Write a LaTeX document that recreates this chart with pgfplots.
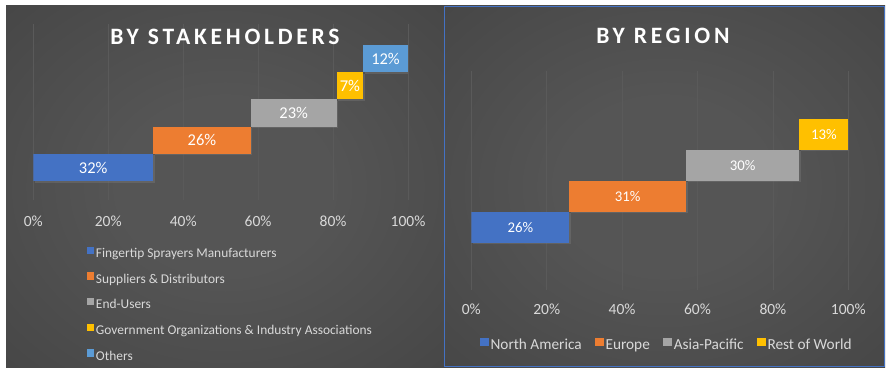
\documentclass[border=0pt]{standalone}
\usepackage{pgfplots}
\pgfplotsset{compat=1.18}
\usepackage{fontspec}
\setmainfont{Carlito}
\newfontfamily\titlefont[LetterSpace=16]{Carlito}
\usetikzlibrary{shadows}
\definecolor{c1}{HTML}{4472C4}
\definecolor{c2}{HTML}{ED7D31}
\definecolor{c3}{HTML}{A5A5A5}
\definecolor{c4}{HTML}{FFC000}
\definecolor{c5}{HTML}{5B9BD5}
\definecolor{tickc}{HTML}{D9D9D9}
\definecolor{gridc}{HTML}{5A5A5A}
\definecolor{bgin}{HTML}{555555}
\definecolor{bgmid}{HTML}{414141}
\definecolor{bgout}{HTML}{2E2E2E}
\pgfdeclareradialshading{panelshade}{\pgfpoint{0bp}{0bp}}{color(0bp)=(bgin); color(12bp)=(bgin); color(45bp)=(bgmid); color(71bp)=(bgout)}
\pgfplotsset{
  panel/.style={
    scale only axis, xmin=0, xmax=100,
    axis line style={draw=none}, tick style={draw=none},
    ytick=\empty, xtick={0,20,40,60,80,100},
    xticklabels={0\%,20\%,40\%,60\%,80\%,100\%},
    xmajorgrids, grid style={gridc, line width=0.8pt},
    xticklabel style={anchor=center, font=\fontsize{15.5}{18}\selectfont, text=tickc},
    title style={anchor=center, yshift=0pt, font=\titlefont\bfseries\fontsize{23.5}{27}\selectfont, text=white},
    legend style={draw=none, fill=none, inner sep=0pt, text=tickc},
    legend cell align=left,
  },
  mybar/.style={draw=none, fill=#1, forget plot, drop shadow={shadow xshift=1.5pt, shadow yshift=-1.5pt, opacity=0.35}},
}
\begin{document}
\begin{tikzpicture}[x=1pt,y=1pt]
\useasboundingbox (0,0) rectangle (891,373);
\fill[white] (0,0) rectangle (891,373);
\shade[shading=panelshade] (6,6) rectangle (444,367);
\shade[shading=panelshade] (444,6) rectangle (885,367);
\draw[c1, line width=1pt] (444.5,6.5) rectangle (884.5,366.5);

% ---------- BY STAKEHOLDERS ----------
\begin{axis}[panel,
  at={(33.3pt,173pt)}, anchor=south west,
  width=374.7pt, height=176pt,
  ymin=-1.19, ymax=5.27,
  xticklabel style={yshift=-21pt},
  title={BY STAKEHOLDERS},
  title style={at={(axis description cs:0.5116,0.895)}},
  legend style={at={(axis description cs:0.1433,-0.2653)}, anchor=north west,
    font=\fontsize{13.4}{15}\selectfont, row sep=11.8pt,
    nodes={inner xsep=1.5pt, inner ysep=0pt, text height=9pt, text depth=3pt}},
  legend image code/.code={\fill[#1] (0pt,0.5pt) rectangle (7.3pt,7.8pt);},
]
\addplot[mybar=c1] coordinates {(0,-0.5) (32,-0.5) (32,0.5) (0,0.5)} --cycle;
\addplot[mybar=c2] coordinates {(32,0.5) (58,0.5) (58,1.5) (32,1.5)} --cycle;
\addplot[mybar=c3] coordinates {(58,1.5) (81,1.5) (81,2.5) (58,2.5)} --cycle;
\addplot[mybar=c4] coordinates {(81,2.5) (88,2.5) (88,3.5) (81,3.5)} --cycle;
\addplot[mybar=c5] coordinates {(88,3.5) (100,3.5) (100,4.5) (88,4.5)} --cycle;
\addplot[draw=none, mark=none, forget plot, nodes near coords, point meta=explicit symbolic,
  nodes near coords style={anchor=center, text=white, font=\fontsize{16.5}{19}\selectfont}]
  coordinates {(16,0)[32\%] (45,1)[26\%] (69.5,2)[23\%] (84.5,3)[7\%] (94,4)[12\%]};
\addlegendimage{fill=c1, draw=none}\addlegendentry{Fingertip Sprayers Manufacturers}
\addlegendimage{fill=c2, draw=none}\addlegendentry{Suppliers \& Distributors}
\addlegendimage{fill=c3, draw=none}\addlegendentry{End-Users}
\addlegendimage{fill=c4, draw=none}\addlegendentry{Government Organizations \& Industry Associations}
\addlegendimage{fill=c5, draw=none}\addlegendentry{Others}
\end{axis}

% ---------- BY REGION ----------
\begin{axis}[panel,
  at={(471.3pt,83pt)}, anchor=south west,
  width=377pt, height=219pt,
  ymin=-2.02, ymax=5.05,
  xticklabel style={yshift=-19pt},
  title={BY REGION},
  title style={at={(axis description cs:0.5085,1.132)}},
  legend columns=4,
  legend style={at={(axis description cs:0.023,-0.216)}, anchor=north west,
    font=\fontsize{15.3}{17}\selectfont,
    nodes={inner xsep=2pt, inner ysep=0pt, text height=10pt, text depth=3.5pt},
    /tikz/every even column/.append style={column sep=11.5pt}},
  legend image code/.code={\fill[#1] (0pt,0.3pt) rectangle (8.4pt,8.7pt);},
]
\addplot[mybar=c1] coordinates {(0,-0.5) (26,-0.5) (26,0.5) (0,0.5)} --cycle;
\addplot[mybar=c2] coordinates {(26,0.5) (57,0.5) (57,1.5) (26,1.5)} --cycle;
\addplot[mybar=c3] coordinates {(57,1.5) (87,1.5) (87,2.5) (57,2.5)} --cycle;
\addplot[mybar=c4] coordinates {(87,2.5) (100,2.5) (100,3.5) (87,3.5)} --cycle;
\addplot[draw=none, mark=none, forget plot, nodes near coords, point meta=explicit symbolic,
  nodes near coords style={anchor=center, text=white, font=\fontsize{14.8}{17}\selectfont}]
  coordinates {(13,0)[26\%] (41.5,1)[31\%] (72,2)[30\%] (93.5,3)[13\%]};
\addlegendimage{fill=c1, draw=none}\addlegendentry{North America}
\addlegendimage{fill=c2, draw=none}\addlegendentry{Europe}
\addlegendimage{fill=c3, draw=none}\addlegendentry{Asia-Pacific}
\addlegendimage{fill=c4, draw=none}\addlegendentry{Rest of World}
\end{axis}
\end{tikzpicture}
\end{document}
